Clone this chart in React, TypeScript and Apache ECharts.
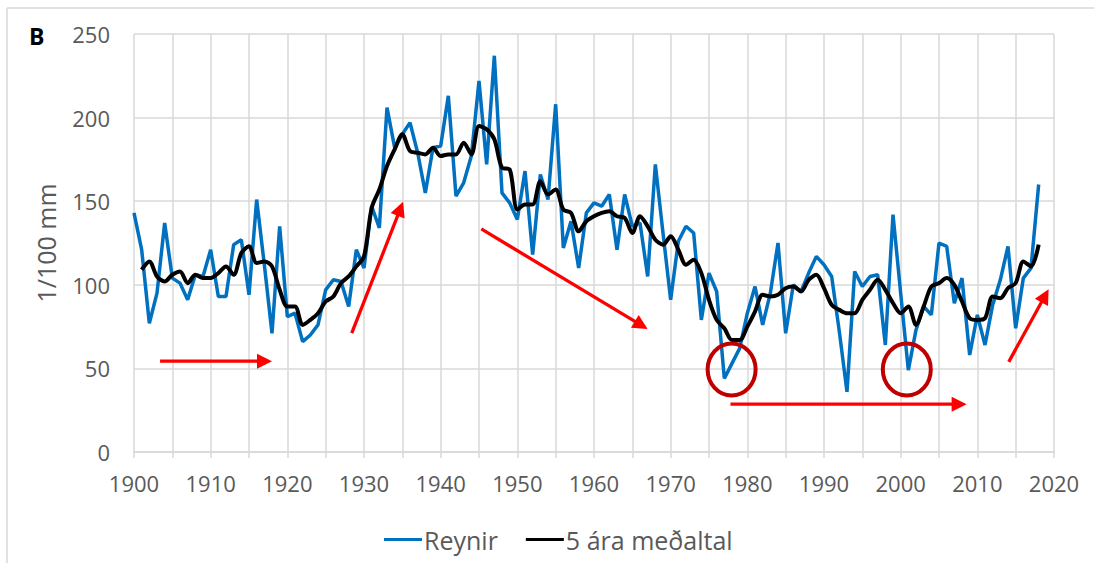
import React, { useEffect, useRef } from "react";
import * as echarts from "echarts";

// ---- data ----
const reynirStart = 1900;
const reynir = [
  143, 121, 77, 95, 137, 104, 101, 91, 106, 105,
  121, 93, 93, 124, 127, 94, 151, 112, 71, 135,
  81, 83, 66, 70, 76, 97, 103, 102, 87, 121,
  110, 147, 134, 206, 182, 190, 197, 179, 155, 182,
  183, 213, 153, 161, 177, 222, 172, 237, 155, 149,
  139, 168, 118, 166, 151, 208, 122, 138, 110, 143,
  149, 147, 154, 121, 154, 135, 137, 105, 172, 131,
  91, 126, 135, 131, 79, 107, 96, 44, 53, 62,
  83, 99, 76, 95, 125, 71, 100, 96, 107, 117,
  112, 105, 72, 36, 108, 99, 105, 106, 64, 142,
  95, 49, 73, 87, 82, 125, 123, 89, 104, 58,
  82, 64, 88, 103, 123, 74, 104, 110, 160,
];

const avgStart = 1901;
const avg5 = [
  109, 114, 105, 102, 106, 108, 101, 106, 104,
  104, 107, 111, 106, 119, 123, 113, 114, 111, 97,
  87, 87, 76, 79, 83, 90, 93, 101, 105, 111,
  117, 146, 157, 171, 181, 190, 180, 179, 178, 182,
  177, 178, 178, 185, 178, 195, 193, 187, 170, 169,
  145, 148, 148, 162, 154, 157, 145, 143, 132, 138,
  141, 143, 144, 141, 140, 131, 141, 135, 127, 124,
  129, 121, 112, 115, 107, 91, 79, 74, 67, 67,
  75, 84, 94, 93, 94, 98, 99, 96, 103, 106,
  98, 88, 85, 83, 83, 91, 97, 103, 97, 89,
  83, 87, 76, 87, 99, 101, 104, 100, 90, 80,
  79, 80, 93, 92, 98, 101, 114, 111, 124,
];

const seriesNames = ["Reynir", "5 ára meðaltal"];

// annotation positions in data coordinates [year, value]
const arrows: { from: [number, number]; to: [number, number] }[] = [
  { from: [1903.4, 54.3], to: [1918.0, 54.3] },
  { from: [1928.4, 71.1], to: [1935.1, 149.7] },
  { from: [1945.3, 133.4], to: [1967.0, 73.5] },
  { from: [1977.8, 28.6], to: [2008.6, 28.6] },
  { from: [2014.1, 53.9], to: [2019.3, 97.4] },
];
const circles: [number, number][] = [
  [1977.95, 49.3],
  [2000.8, 49.3],
];

const FONT = "Open Sans";
const GRID_COLOR = "#d9d9d9";
const TEXT_COLOR = "#595959";

export default function App() {
  const ref = useRef<HTMLDivElement>(null);

  useEffect(() => {
    document.body.style.margin = "0";
    if (!ref.current) return;
    const chart = echarts.init(ref.current, undefined, { renderer: "svg" });

    const reynirData = reynir.map((v, i) => [reynirStart + i, v]);
    const avgData = avg5.map((v, i) => [avgStart + i, v]);

    chart.setOption({
      animation: false,
      backgroundColor: "#fff",
      textStyle: { fontFamily: FONT },
      grid: { left: 134, right: 40, top: 34, bottom: 111, containLabel: false },
      legend: {
        data: seriesNames,
        left: 379,
        top: 522,
        icon: "rect",
        itemWidth: 38,
        itemHeight: 3,
        itemGap: 28,
        textStyle: { fontSize: 25, color: TEXT_COLOR, fontFamily: FONT, padding: [0, 0, 0, -3] },
      },
      xAxis: {
        type: "value",
        min: 1900,
        max: 2020,
        interval: 5,
        axisLine: { show: true, lineStyle: { color: GRID_COLOR, width: 1.5 } },
        axisTick: { show: true, length: 6, lineStyle: { color: GRID_COLOR, width: 1.5 } },
        splitLine: { show: true, lineStyle: { color: GRID_COLOR, width: 1.5 } },
        axisLabel: {
          margin: 20,
          fontSize: 22,
          color: TEXT_COLOR,
          fontFamily: FONT,
          showMinLabel: true,
          showMaxLabel: true,
          formatter: (v: number) => (v % 10 === 0 ? String(v) : ""),
        },
      },
      yAxis: {
        type: "value",
        min: 0,
        max: 250,
        interval: 50,
        name: "1/100 mm",
        nameLocation: "middle",
        nameRotate: 90,
        nameGap: 76,
        nameTextStyle: { fontSize: 25, color: TEXT_COLOR, fontFamily: FONT },
        axisLine: { show: false },
        axisTick: { show: false },
        splitLine: { show: true, lineStyle: { color: GRID_COLOR, width: 1.5 } },
        axisLabel: { margin: 24, fontSize: 22, color: TEXT_COLOR, fontFamily: FONT },
      },
      series: [
        {
          name: seriesNames[0],
          type: "line",
          data: reynirData,
          symbol: "none",
          lineStyle: { color: "#0070C0", width: 3.5 },
          itemStyle: { color: "#0070C0" },
          z: 2,
        },
        {
          name: seriesNames[1],
          type: "line",
          data: avgData,
          symbol: "none",
          smooth: 0.3,
          lineStyle: { color: "#000000", width: 4 },
          itemStyle: { color: "#000000" },
          z: 3,
        },
      ],
    });

    const toPx = (p: [number, number]) => chart.convertToPixel({ gridIndex: 0 }, p) as number[];
    const graphics: any[] = [];

    // frame lines
    graphics.push({
      type: "line",
      shape: { x1: 7, y1: 8, x2: 1094, y2: 8 },
      style: { stroke: GRID_COLOR, lineWidth: 1.5 },
      silent: true,
    });
    graphics.push({
      type: "line",
      shape: { x1: 7, y1: 8, x2: 7, y2: 563 },
      style: { stroke: GRID_COLOR, lineWidth: 1.5 },
      silent: true,
    });
    // panel label
    graphics.push({
      type: "text",
      x: 29,
      y: 24,
      style: {
        text: "B",
        font: "bold 23px 'Open Sans'",
        fontSize: 23,
        fontWeight: "bold",
        fontFamily: FONT,
        fill: "#000",
      },
    });

    const headLen = 15;
    const headHalf = 7.5;
    arrows.forEach((a) => {
      const p1 = toPx(a.from);
      const p2 = toPx(a.to);
      const dx = p2[0] - p1[0];
      const dy = p2[1] - p1[1];
      const len = Math.sqrt(dx * dx + dy * dy);
      const ux = dx / len;
      const uy = dy / len;
      const bx = p2[0] - ux * headLen;
      const by = p2[1] - uy * headLen;
      graphics.push({
        type: "line",
        shape: { x1: p1[0], y1: p1[1], x2: bx + ux * 2, y2: by + uy * 2 },
        style: { stroke: "#FF0000", lineWidth: 3.3 },
        z: 100,
      });
      graphics.push({
        type: "polygon",
        shape: {
          points: [
            [p2[0], p2[1]],
            [bx - uy * headHalf, by + ux * headHalf],
            [bx + uy * headHalf, by - ux * headHalf],
          ],
        },
        style: { fill: "#FF0000" },
        z: 100,
      });
    });

    circles.forEach((c) => {
      const p = toPx(c);
      graphics.push({
        type: "ellipse",
        shape: { cx: p[0], cy: p[1], rx: 24, ry: 26 },
        style: { stroke: "#C00000", lineWidth: 4, fill: "none" },
        z: 100,
      });
    });

    chart.setOption({ graphic: graphics });

    return () => chart.dispose();
  }, []);

  return <div ref={ref} style={{ width: 1094, height: 563 }} />;
}
